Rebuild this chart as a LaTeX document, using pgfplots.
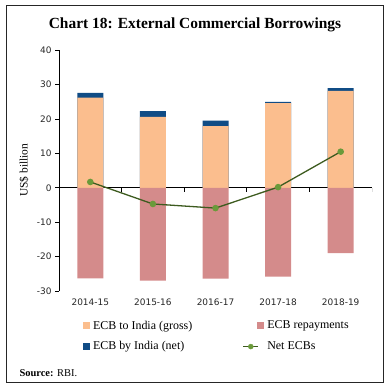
\documentclass[border=0pt]{standalone}
\usepackage{pgfplots}
\usepackage{pgfplotstable}
\pgfplotsset{compat=1.18}
\usepackage{fontspec}
\setmainfont{Liberation Serif}
\newfontfamily\tickfont{DejaVu Sans}

\definecolor{grossc}{HTML}{FBBE8E}
\definecolor{repayc}{HTML}{D48B8B}
\definecolor{netbc}{HTML}{104C85}
\definecolor{linec}{HTML}{3D5B1F}
\definecolor{markc}{HTML}{6A9A3A}

\pgfplotstableread{
idx gross net repay netecb
0 26.2 1.4 -26.3 1.7
1 20.6 1.7 -27.0 -4.7
2 17.9 1.6 -26.4 -5.9
3 24.6 0.4 -25.8 0.2
4 28.2 0.8 -19.0 10.5
}\datatable

\pgfplotsset{
  sqleg/.style={legend image code/.code={
    \path[draw=none, fill=none] (0bp,-3.5bp) rectangle (22bp,3.5bp);
    \fill (15bp,-3.5bp) rectangle (22bp,3.5bp);}},
  lineleg/.style={legend image code/.code={
    \path[draw=none, fill=none] (0bp,-3.5bp) rectangle (22bp,3.5bp);
    \draw[linec, line width=1.3bp] (1bp,0) -- (16bp,0);
    \fill[markc] (8.5bp,0) circle (2.5bp);}},
}

\begin{document}
\begin{tikzpicture}
\useasboundingbox (0bp,0bp) rectangle (390bp,391bp);
\draw[line width=1bp, black!85] (6bp,8bp) rectangle (383bp,385bp);
\node[font=\bfseries\fontsize{15.5}{17}\selectfont, anchor=base] at (195bp,362bp) {Chart 18: External Commercial Borrowings};
\begin{axis}[
  at={(59bp,100bp)}, anchor=south west,
  scale only axis, width=313bp, height=240.8bp,
  ybar, bar width=26bp, bar shift=0pt,
  xmin=-0.5, xmax=4.5, ymin=-30, ymax=40,
  axis x line*=bottom, axis y line*=left,
  x axis line style={draw=none},
  y axis line style={black, line width=0.8bp},
  xtick={0,1,2,3,4},
  xticklabels={2014-15,2015-16,2016-17,2017-18,2018-19},
  x tick style={draw=none},
  ytick={-30,-20,-10,0,10,20,30,40},
  ytick align=outside, ytick pos=left,
  y tick style={black, line width=0.8bp},
  major tick length=4bp,
  tick label style={font=\tickfont\fontsize{9}{10}\selectfont, color=black!85},
  /pgf/number format/assume math mode=true,
  ylabel={US\$ billion},
  every axis y label/.style={at={(axis description cs:-0.112,0.502)}, rotate=90, anchor=center, font=\fontsize{11.5}{13}\selectfont},
  legend columns=2,
  legend cell align=left,
  legend style={draw=none, fill=none, at={(axis description cs:0.0288,-0.12)}, anchor=north west,
    inner sep=0pt, outer sep=0pt, font=\fontsize{12}{14}\selectfont,
    nodes={inner xsep=0pt, inner ysep=1bp}, row sep=9bp,
    /tikz/every even column/.append style={column sep=50bp},
    /tikz/every odd column/.append style={column sep=3bp}},
]
\addplot[black, line width=0.8bp, sharp plot, no marks, forget plot] coordinates {(-0.5,0) (4.5,0)};
\pgfplotsinvokeforeach{-0.5,0.5,1.5,2.5,3.5,4.5}{\draw[black, line width=0.8bp] (axis cs:#1,0) -- (axis cs:#1,-1.16);}
\addplot[fill=netbc, draw=none, forget plot] table[x=idx, y expr=\thisrow{gross}+\thisrow{net}] {\datatable};
\addplot[fill=grossc, draw=none, forget plot] table[x=idx, y=gross] {\datatable};
\addplot[fill=repayc, draw=none, forget plot] table[x=idx, y=repay] {\datatable};
\addplot[linec, line width=1.3bp, sharp plot, mark=*, mark size=2.6bp, mark options={fill=markc, draw=markc}, forget plot] table[x=idx, y=netecb] {\datatable};
\addlegendimage{sqleg, fill=grossc, draw=none}
\addlegendentry{ECB to India (gross)}
\addlegendimage{sqleg, fill=repayc, draw=none}
\addlegendentry{ECB repayments}
\addlegendimage{sqleg, fill=netbc, draw=none}
\addlegendentry{ECB by India (net)}
\addlegendimage{lineleg}
\addlegendentry{Net ECBs}
\end{axis}
\node[anchor=base west, font=\fontsize{10.5}{12}\selectfont] at (16bp,15bp) {\textbf{Source:} RBI.};
\end{tikzpicture}
\end{document}
